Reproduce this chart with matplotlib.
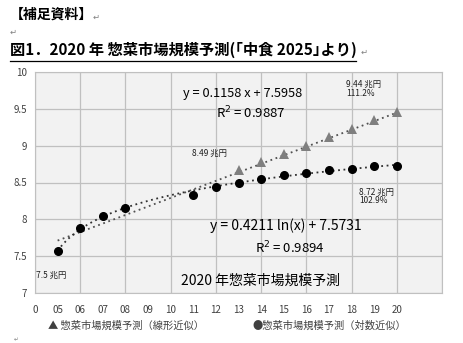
import numpy as np
import matplotlib.pyplot as plt

plt.rcParams['font.family'] = ['Noto Sans CJK JP', 'DejaVu Sans']

# x axis labels (category positions 0..16)
xlabels = ['0', '05', '06', '07', '08', '09', '10', '11', '12', '13', '14',
           '15', '16', '17', '18', '19', '20']

# actual + log-trend forecast (circles)
log_years = ['05', '06', '07', '08', '11', '12', '13', '14', '15', '16',
             '17', '18', '19', '20']
log_vals = [7.57, 7.88, 8.04, 8.15, 8.33, 8.44, 8.50, 8.55, 8.60, 8.63,
            8.67, 8.69, 8.72, 8.72]

# linear-trend forecast (triangles)
lin_years = ['13', '14', '15', '16', '17', '18', '19', '20']
lin_vals = [8.67, 8.78, 8.89, 9.00, 9.12, 9.23, 9.35, 9.46]

# trend line coefficients shown on the chart
lin_a, lin_b = 0.1158, 7.5958
log_a, log_b = 0.4211, 7.5731

fig = plt.figure(figsize=(4.64, 3.43), dpi=100)
ax = fig.add_axes([35/464, 1-293/343, 407/464, 221/343])

xpos = {lab: i for i, lab in enumerate(xlabels)}
lx = np.array([xpos[y] for y in lin_years])
cx = np.array([xpos[y] for y in log_years])

# trend lines
tx = np.linspace(1, 16, 100)
ax.plot(tx, lin_a*tx + lin_b, ls=(0, (1, 2)), color='#505050', lw=1.3, zorder=2)
ax.plot(tx, log_a*np.log(tx) + log_b, ls=(0, (1, 2)), color='#303030', lw=1.3, zorder=2)

ax.plot(lx, lin_vals, '^', color='#7f7f7f', ms=7, mew=0, zorder=3)
ax.plot(cx, log_vals, 'o', color='black', ms=5.5, zorder=3)

ax.set_xlim(0, 18)
ax.set_ylim(7, 10)
ax.set_facecolor('#f2f2f2')
ax.set_xticks(range(0, 19, 2))
ax.set_xticklabels([])
ax.set_yticks(np.arange(7, 10.01, 0.5))
ax.set_yticklabels(['7', '7.5', '8', '8.5', '9', '9.5', '10'])
ax.grid(True, color='#c0c0c0', lw=0.9)
ax.set_axisbelow(True)
ax.tick_params(length=0, labelsize=7, colors='#404040', pad=6)
for s in ax.spines.values():
    s.set_color('#c0c0c0')
for i, lab in enumerate(xlabels):
    ax.text(i, 6.84, lab, ha='center', va='top', fontsize=7, color='#404040')

# annotations
ax.text(0.05, 7.24, '7.5 兆円', fontsize=6, color='#202020', va='center')
ax.text(6.95, 8.895, '8.49 兆円', fontsize=6, color='#202020', va='center')
ax.text(13.76, 9.77, '9.44 兆円\n111.2%', fontsize=6, color='#202020',
        va='center', linespacing=0.9)
ax.text(14.34, 8.31, '8.72 兆円\n102.9%', fontsize=6, color='#202020',
        va='center', linespacing=0.9)
ax.text(6.55, 9.71, 'y = 0.1158 x + 7.5958', fontsize=9.2, color='black', va='center')
ax.text(8.0, 9.44, 'R$^2$ = 0.9887', fontsize=9.5, color='black', va='center')
ax.text(7.75, 7.91, 'y = 0.4211 ln(x) + 7.5731', fontsize=10, color='black', va='center')
ax.text(9.73, 7.61, 'R$^2$ = 0.9894', fontsize=9.5, color='black', va='center')
ax.text(9.96, 7.16, '2020 年惣菜市場規模予測', fontsize=10, color='black',
        ha='center', va='center')

# legend below
fig.text(48/464, 1-326/343, '▲ 惣菜市場規模予測（線形近似）', fontsize=7.4,
         color='#404040', va='center')
fig.text(252/464, 1-326/343, '●惣菜市場規模予測（対数近似）', fontsize=7.4,
         color='#404040', va='center')

# heading text
fig.text(10/464, 1-15/343, '【補足資料】', fontsize=10, fontweight='bold', va='center')
fig.text(93/464, 1-17/343, '↵', fontsize=6, color='#808080', va='center',
         family='DejaVu Sans')
fig.text(10/464, 1-32/343, '↵', fontsize=6, color='#808080', va='center',
         family='DejaVu Sans')
fig.text(10/464, 1-50/343, '図1．2020 年 惣菜市場規模予測(｢中食 2025｣より)',
         fontsize=11, fontweight='bold', va='center')
fig.add_artist(plt.Line2D([10/464, 356/464], [1-61/343, 1-61/343], color='black', lw=0.9))
fig.text(361/464, 1-52/343, '↵', fontsize=6, color='#808080', va='center',
         family='DejaVu Sans')
fig.text(14/464, 1-340/343, '↵', fontsize=4, color='#808080', va='center',
         family='DejaVu Sans')

fig.savefig('out.png', dpi=100)
